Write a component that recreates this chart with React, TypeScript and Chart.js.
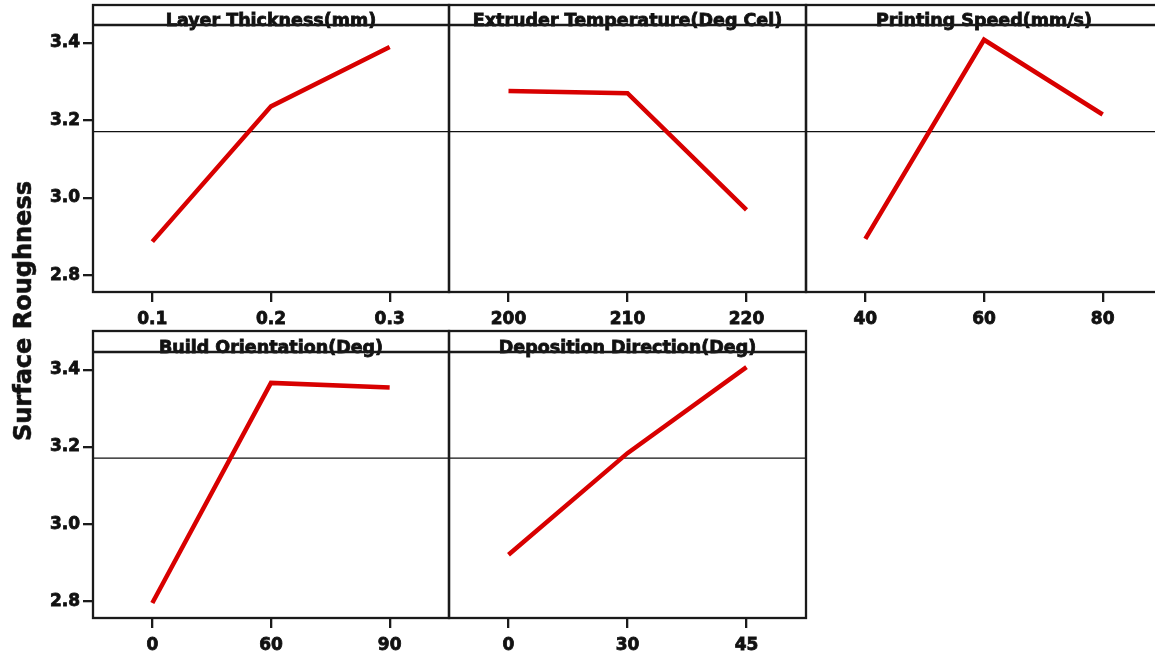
import React, { useEffect, useRef } from "react";
import { Chart, registerables } from "chart.js";

Chart.register(...registerables);

// ---------------- data ----------------
const Y_TITLE = "Surface Roughness";
const GRAND_MEAN = 3.171;
const Y_TICKS = [2.8, 3.0, 3.2, 3.4];
const Y_MIN = 2.757;
const Y_MAX = 3.446;

const LAYER_TITLE = "Layer Thickness(mm)";
const LAYER_LEVELS = ["0.1", "0.2", "0.3"];
const LAYER_MEANS = [2.887, 3.236, 3.389];

const TEMP_TITLE = "Extruder Temperature(Deg Cel)";
const TEMP_LEVELS = ["200", "210", "220"];
const TEMP_MEANS = [3.276, 3.27, 2.969];

const SPEED_TITLE = "Printing Speed(mm/s)";
const SPEED_LEVELS = ["40", "60", "80"];
const SPEED_MEANS = [2.894, 3.408, 3.215];

const ORIENT_TITLE = "Build Orientation(Deg)";
const ORIENT_LEVELS = ["0", "60", "90"];
const ORIENT_MEANS = [2.796, 3.366, 3.354];

const DEPO_TITLE = "Deposition Direction(Deg)";
const DEPO_LEVELS = ["0", "30", "45"];
const DEPO_MEANS = [2.921, 3.184, 3.407];

// ---------------- layout / style ----------------
type Frame = { x0: number; x1: number; top: number; band: number; bottom: number };

const FRAMES: Frame[] = [
  { x0: 93, x1: 449, top: 5, band: 25, bottom: 292 },
  { x0: 449, x1: 806, top: 5, band: 25, bottom: 292 },
  { x0: 806, x1: 1162, top: 5, band: 25, bottom: 292 },
  { x0: 93, x1: 449, top: 331, band: 352, bottom: 618 },
  { x0: 449, x1: 806, top: 331, band: 352, bottom: 618 },
];

const PAD = 8;
const XAXIS_H = 40;
const FONT_FAMILY = '"DejaVu Sans", "Liberation Sans", Arial, sans-serif';
const INK = "#111111";
const FRAME_COLOR = "#1a1a1a";
const LINE_RED = "#d80000";

const panelDecor = {
  id: "panelDecor",
  beforeDatasetsDraw(chart: any, _args: any, opts: any) {
    const { ctx, chartArea: a, scales } = chart;
    const y = scales.y.getPixelForValue(opts.mean);
    ctx.save();
    ctx.strokeStyle = "#111";
    ctx.lineWidth = 1.3;
    ctx.beginPath();
    ctx.moveTo(a.left, y);
    ctx.lineTo(a.right, y);
    ctx.stroke();
    ctx.restore();
  },
  afterDraw(chart: any, _args: any, opts: any) {
    const { ctx, chartArea: a } = chart;
    const top = a.top - opts.bandHeight;
    ctx.save();
    ctx.fillStyle = INK;
    ctx.strokeStyle = INK;
    ctx.lineWidth = 0.8;
    ctx.font = `bold 17.5px ${FONT_FAMILY}`;
    ctx.textAlign = "center";
    ctx.textBaseline = "alphabetic";
    const cx = (a.left + a.right) / 2;
    ctx.strokeText(opts.title, cx, a.top + 1);
    ctx.fillText(opts.title, cx, a.top + 1);
    ctx.strokeStyle = FRAME_COLOR;
    ctx.lineWidth = 2.3;
    ctx.strokeRect(a.left, top, a.right - a.left, a.bottom - top);
    ctx.beginPath();
    ctx.moveTo(a.left, a.top);
    ctx.lineTo(a.right, a.top);
    ctx.stroke();
    ctx.restore();
  },
};

type PanelProps = {
  title: string;
  levels: string[];
  means: number[];
  frame: Frame;
  showY: boolean;
};

function Panel({ title, levels, means, frame, showY }: PanelProps) {
  const ref = useRef<HTMLCanvasElement | null>(null);
  const CL = showY ? 0 : frame.x0 - PAD;
  const CR = frame.x1 + PAD;
  const CT = frame.top - PAD;
  const width = CR - CL;
  const height = frame.bottom + XAXIS_H - CT;
  const yWidth = showY ? frame.x0 - CL : 0;

  useEffect(() => {
    if (!ref.current) return;
    const tickFont = { family: FONT_FAMILY, size: 17, weight: "bold" as const };
    const chart = new Chart(ref.current, {
      type: "line",
      data: {
        labels: levels,
        datasets: [
          {
            data: means,
            borderColor: LINE_RED,
            borderWidth: 4.5,
            pointRadius: 0,
            pointHoverRadius: 0,
            tension: 0,
            fill: false,
            borderCapStyle: "butt",
            borderJoinStyle: "miter",
          },
        ],
      },
      options: {
        responsive: false,
        animation: false,
        events: [],
        layout: {
          padding: { left: showY ? 0 : PAD, right: PAD, top: frame.band - CT, bottom: 0 },
        },
        plugins: {
          legend: { display: false },
          tooltip: { enabled: false },
          title: { display: false },
          // @ts-ignore
          panelDecor: { title, mean: GRAND_MEAN, bandHeight: frame.band - frame.top },
        },
        scales: {
          x: {
            type: "category",
            offset: true,
            afterFit: (s: any) => {
              s.height = XAXIS_H;
            },
            grid: {
              display: true,
              drawOnChartArea: false,
              drawTicks: true,
              tickLength: 10,
              lineWidth: 2.3,
              color: FRAME_COLOR,
              offset: false,
            },
            border: { display: false },
            ticks: {
              font: tickFont,
              color: INK,
              padding: 7,
              maxRotation: 0,
              autoSkip: false,
              textStrokeColor: INK,
              textStrokeWidth: 0.8,
            },
          },
          y: {
            type: "linear",
            display: showY,
            min: Y_MIN,
            max: Y_MAX,
            afterBuildTicks: (s: any) => {
              s.ticks = Y_TICKS.map((v) => ({ value: v }));
            },
            afterFit: (s: any) => {
              s.width = yWidth;
            },
            grid: {
              display: true,
              drawOnChartArea: false,
              drawTicks: true,
              tickLength: 10,
              lineWidth: 2.3,
              color: FRAME_COLOR,
            },
            border: { display: false },
            ticks: {
              font: tickFont,
              color: INK,
              padding: 3,
              textStrokeColor: INK,
              textStrokeWidth: 0.8,
              callback: (v: any) => Number(v).toFixed(1),
            },
          },
        },
      },
      plugins: [panelDecor as any],
    });
    return () => chart.destroy();
  }, []);

  return (
    <canvas
      ref={ref}
      width={width}
      height={height}
      style={{ position: "absolute", left: CL, top: CT, width, height }}
    />
  );
}

export default function App() {
  return (
    <div
      style={{
        position: "absolute",
        left: 0,
        top: 0,
        width: 1155,
        height: 653,
        overflow: "hidden",
        background: "#fff",
      }}
    >
      <Panel title={LAYER_TITLE} levels={LAYER_LEVELS} means={LAYER_MEANS} frame={FRAMES[0]} showY={true} />
      <Panel title={TEMP_TITLE} levels={TEMP_LEVELS} means={TEMP_MEANS} frame={FRAMES[1]} showY={false} />
      <Panel title={SPEED_TITLE} levels={SPEED_LEVELS} means={SPEED_MEANS} frame={FRAMES[2]} showY={false} />
      <Panel title={ORIENT_TITLE} levels={ORIENT_LEVELS} means={ORIENT_MEANS} frame={FRAMES[3]} showY={true} />
      <Panel title={DEPO_TITLE} levels={DEPO_LEVELS} means={DEPO_MEANS} frame={FRAMES[4]} showY={false} />
      <div
        style={{
          position: "absolute",
          left: 23,
          top: 311,
          transform: "translate(-50%, -50%) rotate(-90deg)",
          font: `bold 24px ${FONT_FAMILY}`,
          color: INK,
          whiteSpace: "nowrap",
          WebkitTextStroke: "0.6px #111",
        }}
      >
        {Y_TITLE}
      </div>
    </div>
  );
}
